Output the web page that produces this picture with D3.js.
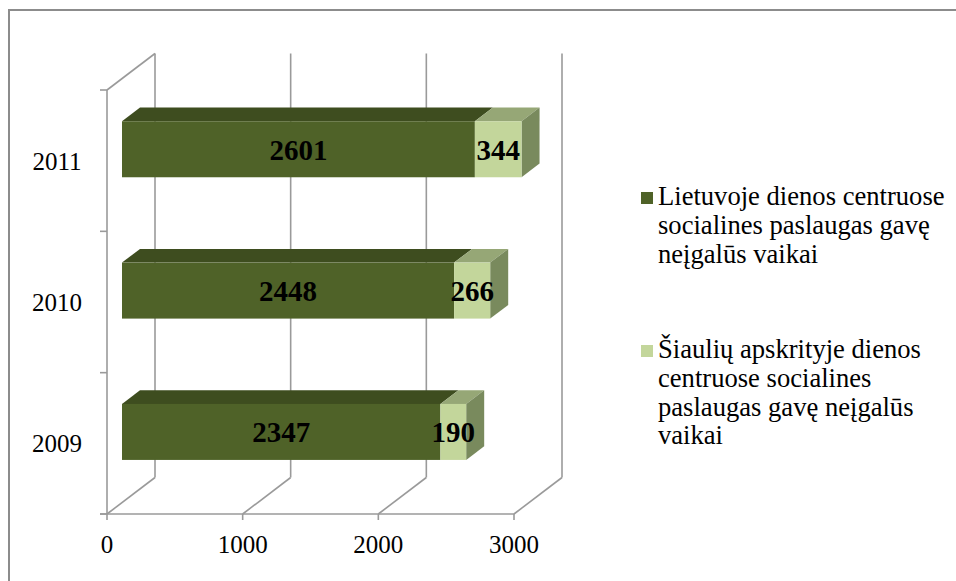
<!DOCTYPE html>
<html>
<head>
<meta charset="utf-8">
<script src="https://cdn.jsdelivr.net/npm/d3@7"></script>
<style>
  body { margin: 0; background: #fff; }
  text, tspan { font-family: 'Liberation Serif', serif; fill: #000; }
</style>
</head>
<body>
<div id="chart"></div>
<script>
// data
var years = ['2011', '2010', '2009']
var lietuva = [2601, 2448, 2347]
var siauliai = [344, 266, 190]
var xTicks = [0, 1000, 2000, 3000]
var seriesNames = [
  ['Lietuvoje dienos centruose', 'socialines paslaugas gavę', 'neįgalūs vaikai'],
  ['Šiaulių apskrityje dienos', 'centruose socialines', 'paslaugas gavę neįgalūs', 'vaikai']
]

var W = 956, H = 581
var FONT = "'Liberation Serif', serif"

var svg = d3.select('#chart')
  .append('svg')
  .attr('width', W)
  .attr('height', H)
  .attr('font-family', FONT)

// outer frame (runs off the right / bottom of the picture)
svg.append('rect')
  .attr('x', 9).attr('y', 10)
  .attr('width', 960).attr('height', 590)
  .attr('fill', 'none')
  .attr('stroke', '#8c8c8c')
  .attr('stroke-width', 2)

// front plane scales
var x = d3.scaleLinear().domain([0, 3000]).range([107, 514])
var y = d3.scaleBand().domain(years).range([90, 514])

// depth of the 3d box
var DX = 48, DY = -36.5
var fA = 0.3125, fB = 0.6875  // bar front/back as fraction of depth

var gridColor = '#9a9a9a'

var grid = svg.append('g')
  .attr('fill', 'none')
  .attr('stroke', gridColor)
  .attr('stroke-width', 1.6)

// back wall gridlines
xTicks.forEach(function(t) {
  grid.append('line')
    .attr('x1', x(t) + DX).attr('x2', x(t) + DX)
    .attr('y1', y.range()[0] + DY).attr('y2', y.range()[1] + DY)
  // floor diagonals
  grid.append('line')
    .attr('x1', x(t)).attr('y1', y.range()[1])
    .attr('x2', x(t) + DX).attr('y2', y.range()[1] + DY)
})

// left wall top diagonal
grid.append('line')
  .attr('x1', x(0)).attr('y1', y.range()[0])
  .attr('x2', x(0) + DX).attr('y2', y.range()[0] + DY)

// front axes
grid.append('line')
  .attr('x1', x(0)).attr('x2', x(0))
  .attr('y1', y.range()[0]).attr('y2', y.range()[1])
grid.append('line')
  .attr('x1', x(0) - 7).attr('x2', x(3000))
  .attr('y1', y.range()[1]).attr('y2', y.range()[1])

// y ticks at band edges
var edges = years.map(function(d) { return y(d) }).concat([y.range()[1]])
edges.forEach(function(e) {
  grid.append('line')
    .attr('x1', x(0) - 7).attr('x2', x(0))
    .attr('y1', e).attr('y2', e)
})

// x ticks
xTicks.forEach(function(t) {
  grid.append('line')
    .attr('x1', x(t)).attr('x2', x(t))
    .attr('y1', y.range()[1]).attr('y2', y.range()[1] + 6)
})

// tick labels
svg.append('g')
  .selectAll('text')
  .data(xTicks)
  .enter()
  .append('text')
  .attr('x', function(d) { return x(d) })
  .attr('y', 553)
  .attr('text-anchor', 'middle')
  .attr('font-family', FONT)
  .attr('font-size', 25)
  .text(function(d) { return d })

svg.append('g')
  .selectAll('text')
  .data(years)
  .enter()
  .append('text')
  .attr('x', 57)
  .attr('y', function(d) { return y(d) + y.bandwidth() / 2 + 9 })
  .attr('text-anchor', 'middle')
  .attr('font-family', FONT)
  .attr('font-size', 25)
  .text(function(d) { return d })

// stacked bars
var rows = years.map(function(d, i) {
  return { year: d, a: lietuva[i], b: siauliai[i] }
})
var stack = d3.stack().keys(['a', 'b'])(rows)

var colors = {
  a: { front: '#4f6228', top: '#3e4d1f', side: '#3a471d' },
  b: { front: '#c3d69b', top: '#96a776', side: '#798a5d' }
}

var barH = 56

function pts(arr) {
  return arr.map(function(p) { return p.join(',') }).join(' ')
}

stack.forEach(function(layer, li) {
  var c = colors[layer.key]
  var g = svg.append('g')
  layer.forEach(function(s) {
    var cy = y(s.data.year) + y.bandwidth() / 2
    var x0 = x(s[0]) + DX * fA, x1 = x(s[1]) + DX * fA
    var yT = cy + DY * fA - barH / 2, yB = yT + barH
    var dx = DX * (fB - fA), dy = DY * (fB - fA)
    // top face
    g.append('polygon')
      .attr('points', pts([[x0, yT], [x1, yT], [x1 + dx, yT + dy], [x0 + dx, yT + dy]]))
      .attr('fill', c.top)
    // right side face only for the outer segment
    if (li === stack.length - 1) {
      g.append('polygon')
        .attr('points', pts([[x1, yT], [x1 + dx, yT + dy], [x1 + dx, yB + dy], [x1, yB]]))
        .attr('fill', c.side)
    }
    // front face
    g.append('rect')
      .attr('x', x0).attr('y', yT)
      .attr('width', x1 - x0).attr('height', barH)
      .attr('fill', c.front)
  })
})

// value labels
stack.forEach(function(layer) {
  svg.append('g')
    .selectAll('text')
    .data(layer)
    .enter()
    .append('text')
    .attr('x', function(s) { return (x(s[0]) + x(s[1])) / 2 + DX * fA })
    .attr('y', function(s) { return y(s.data.year) + y.bandwidth() / 2 + DY * fA + 10.5 })
    .attr('text-anchor', 'middle')
    .attr('font-family', FONT)
    .attr('font-size', 29)
    .attr('font-weight', 'bold')
    .text(function(s) { return s[1] - s[0] })
})

// legend
var legendTop = [205, 358]
var legendColors = [colors.a.front, colors.b.front]
var legend = svg.append('g')
seriesNames.forEach(function(lines, i) {
  legend.append('rect')
    .attr('x', 641).attr('y', legendTop[i] - 13)
    .attr('width', 12).attr('height', 12)
    .attr('fill', legendColors[i])
  lines.forEach(function(line, j) {
    legend.append('text')
      .attr('x', 658)
      .attr('y', legendTop[i] + j * 28.8)
      .attr('font-family', FONT)
      .attr('font-size', 26.6)
      .text(line)
  })
})
</script>
</body>
</html>
